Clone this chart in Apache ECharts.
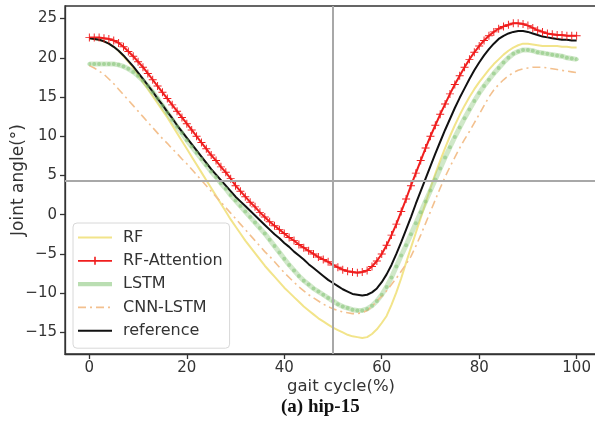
<!DOCTYPE html>
<html><head><meta charset="utf-8">
<script src="https://cdn.jsdelivr.net/npm/echarts@6.0.0/dist/echarts.min.js"></script>
<style>html,body{margin:0;padding:0;background:#fff}#c{width:595px;height:430px}</style>
</head><body><div id="c"></div>
<script>
// gait cycle positions 0..100 (%)
const gait = [];
for (let i = 0; i <= 100; i++) gait.push(i);

const xTicks = [0, 20, 40, 60, 80, 100];
const yTicks = [-15, -10, -5, 0, 5, 10, 15, 20, 25];
const seriesNames = ['RF', 'RF-Attention', 'LSTM', 'CNN-LSTM', 'reference'];
const refLineY = 4.33;
const refLineX = 50;

const rf = [22.5,22.4,22.3,22.1,21.8,21.4,20.9,20.2,19.5,18.7,
17.8,16.9,16.0,15.1,14.2,13.3,12.4,11.4,10.4,9.4,
8.4,7.4,6.4,5.4,4.4,3.4,2.4,1.4,0.4,-0.6,
-1.5,-2.4,-3.3,-4.1,-4.9,-5.7,-6.5,-7.2,-7.9,-8.6,
-9.3,-9.9,-10.5,-11.1,-11.7,-12.2,-12.7,-13.2,-13.6,-14.0,
-14.4,-14.7,-15.0,-15.3,-15.5,-15.6,-15.7,-15.6,-15.2,-14.6,
-13.8,-12.9,-11.5,-9.9,-8.1,-6.1,-4.2,-2.3,-0.4,1.5,
3.4,5.2,6.9,8.5,10.0,11.4,12.7,13.9,15.0,16.0,
16.9,17.7,18.5,19.2,19.8,20.4,20.9,21.3,21.6,21.8,
21.8,21.7,21.6,21.5,21.5,21.5,21.5,21.4,21.4,21.3,
21.3];

const rfAttention = [22.6,22.6,22.6,22.5,22.4,22.2,21.9,21.4,20.8,20.2,
19.5,18.8,18.0,17.2,16.4,15.6,14.8,14.0,13.2,12.4,
11.6,10.8,10.0,9.2,8.4,7.6,6.9,6.1,5.4,4.6,
3.7,3.0,2.3,1.6,1.0,0.3,-0.3,-0.9,-1.4,-1.9,
-2.4,-2.9,-3.3,-3.8,-4.2,-4.6,-5.0,-5.4,-5.7,-6.0,
-6.4,-6.7,-7.0,-7.2,-7.3,-7.4,-7.3,-7.1,-6.6,-5.9,
-5.0,-3.9,-2.6,-1.2,0.4,2.0,3.7,5.3,6.9,8.5,
10.0,11.4,12.8,14.1,15.4,16.6,17.7,18.8,19.8,20.7,
21.5,22.2,22.8,23.3,23.7,24.0,24.2,24.4,24.4,24.3,
24.1,23.8,23.5,23.3,23.1,23.0,22.9,22.9,22.8,22.8,
22.8];

const lstm = [19.2,19.2,19.2,19.2,19.2,19.2,19.1,18.9,18.6,18.2,
17.7,17.1,16.4,15.6,14.8,13.9,13.0,12.1,11.2,10.4,
9.5,8.7,7.9,7.1,6.3,5.5,4.8,4.0,3.3,2.5,
1.8,1.1,0.4,-0.3,-1.0,-1.7,-2.4,-3.2,-4.0,-4.8,
-5.6,-6.4,-7.1,-7.8,-8.4,-8.9,-9.4,-9.8,-10.2,-10.6,
-11.0,-11.4,-11.7,-11.9,-12.1,-12.2,-12.2,-12.0,-11.6,-11.0,
-10.2,-9.2,-8.0,-6.6,-5.2,-3.9,-2.5,-1.1,0.3,1.7,
3.1,4.5,5.9,7.3,8.6,9.9,11.1,12.3,13.4,14.5,
15.5,16.4,17.2,18.0,18.7,19.4,20.0,20.5,20.8,21.0,
21.0,20.9,20.7,20.6,20.5,20.4,20.3,20.2,20.0,19.9,
19.8];

const cnnLstm = [19.0,18.7,18.3,17.9,17.3,16.7,16.0,15.3,14.6,13.9,
13.2,12.5,11.8,11.1,10.4,9.7,9.1,8.4,7.8,7.1,
6.5,5.8,5.1,4.4,3.7,3.0,2.3,1.6,0.9,0.2,
-0.5,-1.2,-1.9,-2.6,-3.3,-4.0,-4.7,-5.3,-6.0,-6.7,
-7.4,-8.0,-8.6,-9.2,-9.7,-10.2,-10.6,-11.0,-11.4,-11.7,
-12.0,-12.2,-12.4,-12.5,-12.6,-12.6,-12.5,-12.2,-11.7,-11.0,
-10.4,-9.7,-8.9,-8.1,-7.2,-6.3,-5.3,-4.0,-2.6,-1.1,
0.4,1.9,3.4,4.8,6.1,7.3,8.5,9.6,10.6,11.7,
12.8,13.9,15.0,15.9,16.6,17.2,17.7,18.1,18.4,18.6,
18.7,18.8,18.8,18.8,18.7,18.6,18.5,18.4,18.3,18.2,
18.1];

const reference = [22.5,22.4,22.3,22.1,21.8,21.4,20.9,20.3,19.6,18.9,
18.1,17.3,16.5,15.7,14.8,14.0,13.1,12.3,11.4,10.6,
9.8,9.0,8.2,7.4,6.6,5.8,5.1,4.4,3.7,3.0,
2.3,1.7,1.1,0.5,-0.1,-0.7,-1.3,-1.9,-2.5,-3.0,
-3.6,-4.1,-4.7,-5.2,-5.7,-6.3,-6.8,-7.3,-7.8,-8.3,
-8.7,-9.1,-9.5,-9.8,-10.1,-10.2,-10.3,-10.2,-9.9,-9.4,
-8.6,-7.6,-6.4,-5.0,-3.5,-1.9,-0.3,1.4,3.0,4.6,
6.2,7.8,9.3,10.8,12.2,13.6,14.9,16.1,17.3,18.4,
19.4,20.3,21.1,21.8,22.4,22.8,23.1,23.3,23.4,23.4,
23.3,23.1,22.9,22.7,22.6,22.5,22.4,22.3,22.3,22.2,
22.2];

function pairs(arr) { return gait.map((g, i) => [g, arr[i]]); }
const minus = v => String(v).replace('-', '\u2212');
const FONT = 'DejaVu Sans';
const plus = 'path://M0,4.4H10V5.6H0Z M4.4,0H5.6V10H4.4Z';

// legend sample glyphs in a 34 x 10 box (tiny corner specks keep the box size)
const box = 'M0,0h0.01v0.01h-0.01Z M33.99,9.99h0.01v0.01h-0.01Z ';
const icons = {
  'RF': 'path://' + box + 'M0,4.1H34V5.9H0Z',
  'RF-Attention': 'path://' + box + 'M0,4.1H34V5.9H0Z M16.2,1H17.8V9H16.2Z',
  'LSTM': 'path://' + box + 'M0,2.8H34V7.2H0Z',
  'CNN-LSTM': 'path://' + box + 'M0,4.2H8V5.8H0Z M12,4.2H14V5.8H12Z M18,4.2H26V5.8H18Z M30,4.2H32V5.8H30Z',
  'reference': 'path://' + box + 'M0,4H34V6H0Z'
};

const chart = echarts.init(document.getElementById('c'), null, {renderer: 'canvas'});
chart.setOption({
  animation: false,
  backgroundColor: '#fff',
  grid: {left: 65, right: -6, top: 6, bottom: 76, show: true, borderColor: '#333', borderWidth: 1.3,
         backgroundColor: 'transparent', outerBoundsMode: 'none', containLabel: false},
  xAxis: {
    type: 'value', min: -5, max: 105,
    name: 'gait cycle(%)', nameLocation: 'middle', nameGap: 24, nameMoveOverlap: false,
    nameTextStyle: {fontFamily: FONT, fontSize: 16.5, color: '#333', padding: [0, 0, 0, 16]},
    axisLine: {show: true, onZero: false, lineStyle: {color: '#333', width: 1.3}},
    axisTick: {show: true, length: 5, customValues: xTicks, lineStyle: {color: '#333', width: 1.3}},
    axisLabel: {customValues: xTicks, fontFamily: FONT, fontSize: 15, color: '#333', margin: 7, formatter: minus},
    splitLine: {show: false}
  },
  yAxis: {
    type: 'value', min: -17.75, max: 26.6,
    name: 'Joint angle(\u00b0)', nameLocation: 'middle', nameGap: 38, nameMoveOverlap: false,
    nameTextStyle: {fontFamily: FONT, fontSize: 17, color: '#333'},
    axisLine: {show: true, onZero: false, lineStyle: {color: '#333', width: 1.3}},
    axisTick: {show: true, length: 5, customValues: yTicks, lineStyle: {color: '#333', width: 1.3}},
    axisLabel: {customValues: yTicks, fontFamily: FONT, fontSize: 15, color: '#333', margin: 8, formatter: minus},
    splitLine: {show: false}
  },
  legend: {
    orient: 'vertical', left: 73, top: 223,
    data: seriesNames.map(n => ({name: n, icon: icons[n]})),
    itemWidth: 34, itemHeight: 10, itemGap: 7.3,
    padding: [6.5, 7, 9.5, 5],
    backgroundColor: 'rgba(255,255,255,0.85)',
    borderColor: '#d8d8d8', borderWidth: 1, borderRadius: 4,
    textStyle: {fontFamily: FONT, fontSize: 16, color: '#333', padding: [0, 0, 0, 6]}
  },
  graphic: [{
    type: 'text', left: 281, top: 398,
    style: {text: '(a) hip-15', font: 'bold 19px "Liberation Serif", serif', fill: '#111'}
  }],
  series: [
    {name: 'RF', type: 'line', data: pairs(rf), symbol: 'none',
     lineStyle: {color: '#f2e48a', width: 2}, itemStyle: {color: '#f2e48a'}},
    {name: 'RF-Attention', type: 'line', data: pairs(rfAttention), symbol: plus, symbolSize: 8,
     lineStyle: {color: '#f01e1e', width: 2}, itemStyle: {color: '#f01e1e'}},
    {name: 'LSTM', type: 'line', data: pairs(lstm), symbol: 'circle', symbolSize: 4,
     lineStyle: {color: 'rgba(150,205,135,0.45)', width: 5}, itemStyle: {color: 'rgba(130,195,115,0.55)'}},
    {name: 'CNN-LSTM', type: 'line', data: pairs(cnnLstm), symbol: 'none',
     lineStyle: {color: '#f3c08e', width: 1.6, type: [8, 4, 2, 4]}, itemStyle: {color: '#f3c08e'}},
    {name: 'reference', type: 'line', data: pairs(reference), symbol: 'none',
     lineStyle: {color: '#111', width: 2}, itemStyle: {color: '#111'},
     markLine: {silent: true, symbol: 'none', label: {show: false},
       lineStyle: {color: '#a8a8a8', width: 2, type: 'solid'},
       data: [{yAxis: refLineY}, {xAxis: refLineX}]}}
  ]
});
</script>
</body></html>
